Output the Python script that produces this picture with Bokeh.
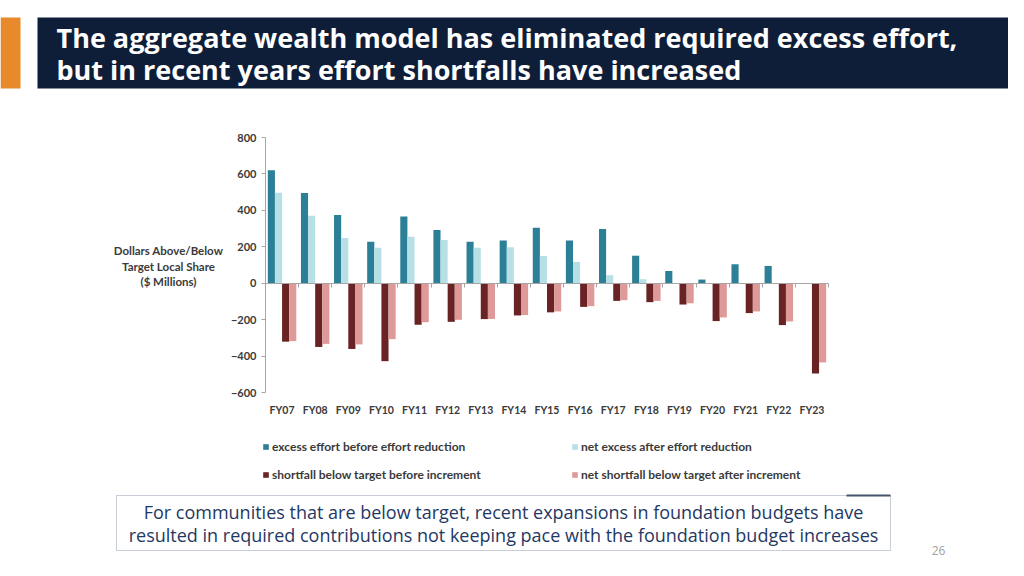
from bokeh.plotting import figure
from bokeh.models import (Range1d, LinearAxis, FixedTicker, BoxAnnotation, Legend, LegendItem,
                          ColumnDataSource, Label)
from bokeh.core.properties import value
from bokeh.embed import file_html
from bokeh.resources import INLINE

# ---------------- data ----------------
years = ["FY07", "FY08", "FY09", "FY10", "FY11", "FY12", "FY13", "FY14", "FY15",
         "FY16", "FY17", "FY18", "FY19", "FY20", "FY21", "FY22", "FY23"]
excess_before = [620, 495, 374, 228, 366, 292, 228, 235, 305, 235, 298, 151, 67, 20, 104, 95, 0]
net_excess = [497, 370, 248, 195, 255, 237, 195, 197, 150, 117, 44, 22, 0, 0, 0, 0, 0]
shortfall_before = [-321, -350, -361, -428, -228, -212, -197, -177, -160, -130, -97, -104, -117, -208, -164, -230, -496]
net_shortfall = [-318, -333, -336, -307, -214, -201, -196, -175, -155, -126, -93, -97, -110, -188, -155, -210, -435]
y_ticks = [-600, -400, -200, 0, 200, 400, 600, 800]
series_names = ["excess effort before effort reduction", "net excess after effort reduction",
                "shortfall below target before increment", "net shortfall below target after increment"]
title_lines = ["The aggregate wealth model has eliminated required excess effort,",
               "but in recent years effort shortfalls have increased"]
axis_title = ["Dollars Above/Below", "Target Local Share", "($ Millions)"]
note_lines = ["For communities that are below target, recent expansions in foundation budgets have",
              "resulted in required contributions not keeping pace with the foundation budget increases"]
page_number = "26"

colors = ["#2b7f97", "#b6e0e6", "#6a2325", "#dd9a99"]

# ---------------- page geometry (canvas px) ----------------
W, H = 1008, 560
fl, fr, ft, fb = 265, 828, 137, 392   # chart frame in canvas pixels
vmin, vmax = -600, 800
ncat = len(years)
ppu_y = (fb - ft) / (vmax - vmin)
ppu_x = (fr - fl) / ncat

p = figure(width=W, height=H, output_backend="svg", toolbar_location=None,
           x_range=Range1d(0, W), y_range=Range1d(H, 0),
           x_axis_type=None, y_axis_type=None, min_border=0,
           background_fill_color="white", border_fill_color="white", outline_line_color=None)
p.grid.visible = False

p.extra_y_ranges = {"val": Range1d(vmin - (H - fb) / ppu_y, vmax + ft / ppu_y)}
p.extra_x_ranges = {"cat": Range1d(-fl / ppu_x, ncat + (W - fr) / ppu_x)}

# ---------------- header ----------------
p.add_layout(BoxAnnotation(left=0, right=20, top=17, bottom=88, fill_color="#e8892b",
                           fill_alpha=1, line_color=None))
p.add_layout(BoxAnnotation(left=37, right=W, top=17, bottom=88, fill_color="#0f1e38",
                           fill_alpha=1, line_color=None))
for i, t in enumerate(title_lines):
    p.add_layout(Label(x=56, y=37 + i * 32, text=t, text_color="white",
                       text_font="Open Sans", text_font_style="bold", text_font_size="27px",
                       text_baseline="middle", text_align="left"))

# ---------------- bars ----------------
centers = [i + 0.5 for i in range(ncat)]
bw = 0.215
offsets = [-1.5 * bw, -0.5 * bw, 0.5 * bw, 1.5 * bw]
series = [excess_before, net_excess, shortfall_before, net_shortfall]
renderers = []
for vals, off, col in zip(series, offsets, colors):
    src = ColumnDataSource(dict(x=[c + off for c in centers], top=vals))
    r = p.vbar(x="x", top="top", bottom=0, width=bw, source=src, fill_color=col,
               line_color=None, x_range_name="cat", y_range_name="val")
    renderers.append(r)

# ---------------- axes ----------------
yax = LinearAxis(y_range_name="val", fixed_location=fl, bounds=(vmin, vmax),
                 ticker=FixedTicker(ticks=y_ticks, minor_ticks=[]),
                 axis_line_color="#a6a6a6", major_tick_line_color="#a6a6a6",
                 major_tick_in=0, major_tick_out=4, minor_tick_line_color=None,
                 major_label_text_font="Lato", major_label_text_font_style="bold",
                 major_label_text_font_size="11px", major_label_text_color="#3a3a3a",
                 major_label_standoff=5)
p.add_layout(yax, "left")

# zero line with boundary tick marks (minor ticks, no labels)
xax = LinearAxis(x_range_name="cat", y_range_name="val", fixed_location=0, bounds=(0, ncat),
                 ticker=FixedTicker(ticks=[], minor_ticks=list(range(ncat + 1))),
                 axis_line_color="#a6a6a6", major_tick_line_color=None,
                 minor_tick_line_color="#a6a6a6", minor_tick_in=0, minor_tick_out=4)
p.add_layout(xax, "below")

p.text(x=centers, y=[vmin] * ncat, text=years, x_range_name="cat", y_range_name="val",
       y_offset=17, text_align="center", text_baseline="middle",
       text_font=value("Lato"), text_font_style="bold", text_font_size="10.5px", text_color="#3a3a3a")

for i, t in enumerate(axis_title):
    p.add_layout(Label(x=168, y=250 + i * 15.5, text=t, text_color="#3a3a3a",
                       text_font="Lato", text_font_style="bold", text_font_size="11.5px",
                       text_baseline="middle", text_align="center"))

# ---------------- legend ----------------
legend = Legend(items=[LegendItem(label=n, renderers=[r]) for n, r in zip(series_names, renderers)],
                orientation="horizontal", ncols=2, location=(262, 76),
                glyph_width=7, glyph_height=7, label_standoff=3, label_width=291,
                label_height=20, spacing=8, padding=0, margin=0,
                border_line_color=None, background_fill_alpha=0,
                label_text_font="Lato", label_text_font_style="bold",
                label_text_font_size="12px", label_text_color="#3a3a3a")
p.add_layout(legend)

# ---------------- note box ----------------
p.add_layout(BoxAnnotation(left=116, right=890, top=495, bottom=550, fill_color="white",
                           fill_alpha=1, line_color="#4d5d77", line_width=1))
p.add_layout(BoxAnnotation(left=846, right=890, top=494, bottom=496, fill_color="#44546a",
                           fill_alpha=1, line_color=None))
for i, t in enumerate(note_lines):
    p.add_layout(Label(x=503, y=511 + i * 23, text=t, text_color="#1f3864",
                       text_font="Open Sans", text_font_size="18px",
                       text_baseline="middle", text_align="center"))

p.add_layout(Label(x=938, y=550, text=page_number, text_color="#a0a0a0",
                   text_font="Open Sans", text_font_size="12px",
                   text_baseline="middle", text_align="center"))

open("out.html", "w").write(file_html(p, INLINE))
